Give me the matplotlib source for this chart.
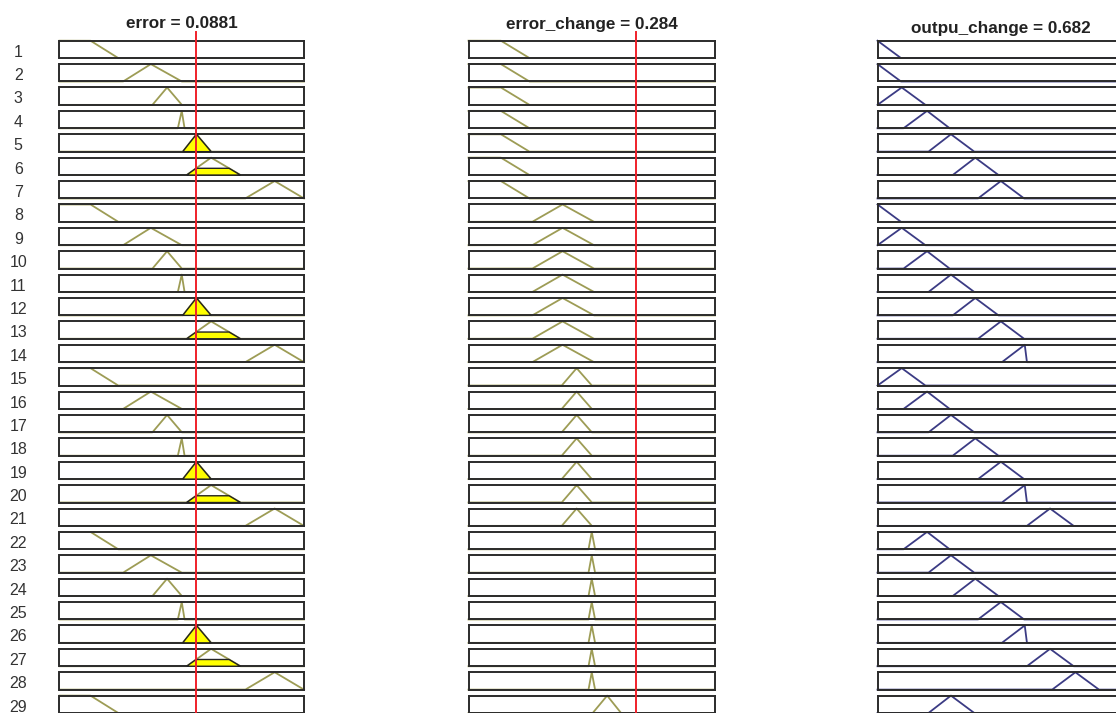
import numpy as np
import matplotlib
matplotlib.use("Agg")
import matplotlib.pyplot as plt
from matplotlib.lines import Line2D
from matplotlib.transforms import blended_transform_factory

plt.rcParams["font.family"] = ["Liberation Sans", "DejaVu Sans"]

# ---- fuzzy system description -------------------------------------------
error_range = [-0.75, 0.75]
dchange_range = [-0.8, 0.8]
output_range = [0.0, 0.7]

error_value = 0.0881
dchange_value = 0.284
output_value = 0.682

# membership functions: 3 params = triangle, 4 params = trapezoid
error_mfs = [
    [-0.75, -0.75, -0.56, -0.39],
    [-0.36, -0.19, 0.0],
    [-0.18, -0.09, 0.0],
    [-0.024, 0.0, 0.017],
    [0.006, 0.09, 0.18],
    [0.03, 0.18, 0.36],
    [0.39, 0.57, 0.75],
]
dchange_mfs = [
    [-0.8, -0.8, -0.59, -0.405],
    [-0.386, -0.19, 0.014],
    [-0.195, -0.098, 0.0],
    [-0.021, 0.0, 0.021],
    [0.006, 0.1, 0.19],
]
output_mfs = [
    [0.0, 0.0, 0.0665],
    [0.0, 0.069, 0.136],
    [0.074, 0.141, 0.205],
    [0.145, 0.209, 0.275],
    [0.214, 0.278, 0.344],
    [0.286, 0.351, 0.417],
    [0.354, 0.419, 0.425],
    [0.425, 0.491, 0.558],
    [0.497, 0.563, 0.63],
]

# rule base (1-based MF numbers)
rule_error = [1, 2, 3, 4, 5, 6, 7,
              1, 2, 3, 4, 5, 6, 7,
              1, 2, 3, 4, 5, 6, 7,
              1, 2, 3, 4, 5, 6, 7,
              1]
rule_dchange = [1, 1, 1, 1, 1, 1, 1,
                2, 2, 2, 2, 2, 2, 2,
                3, 3, 3, 3, 3, 3, 3,
                4, 4, 4, 4, 4, 4, 4,
                5]
rule_output = [1, 1, 2, 3, 4, 5, 6,
               1, 2, 3, 4, 5, 6, 7,
               2, 3, 4, 5, 6, 7, 8,
               3, 4, 5, 6, 7, 8, 9,
               4]
row_labels = [str(i) for i in range(1, 30)]

titles = ["error = 0.0881", "error_change = 0.284", "outpu_change = 0.682"]

# ---- helpers --------------------------------------------------------------
W, H = 1116, 713
IN_COLOR = "#9d9c55"
OUT_COLOR = "#3b3b84"
EDGE = "#2b2b2b"
RED = "#f0202a"


def mf_eval(p, x):
    a, b, c, d = (p[0], p[1], p[1], p[2]) if len(p) == 3 else p
    y = np.ones_like(x)
    if b > a:
        y = np.minimum(y, (x - a) / (b - a))
    else:
        y = np.where(x < a, 0.0, y)
    if d > c:
        y = np.minimum(y, (d - x) / (d - c))
    else:
        y = np.where(x > d, 0.0, y)
    return np.clip(y, 0.0, 1.0)


def grid(rng, p):
    pts = [v for v in p if rng[0] <= v <= rng[1]]
    return np.union1d(np.linspace(rng[0], rng[1], 2001), pts)


def clipped_fill(ax, x, y, level, face):
    yc = np.minimum(y, level)
    idx = np.nonzero(yc > 1e-9)[0]
    if len(idx) == 0:
        return
    i0 = max(idx[0] - 1, 0)
    i1 = min(idx[-1] + 1, len(x) - 1)
    xs = x[i0:i1 + 1]
    ys = yc[i0:i1 + 1]
    ax.fill(np.r_[xs[0], xs, xs[-1]], np.r_[0, ys, 0], facecolor=face,
            edgecolor="#222222", lw=1.0, zorder=3, clip_on=False)


def px_axes(fig, left, top, width, height):
    return fig.add_axes([left / W, 1 - (top + height) / H, width / W, height / H])


def style_box(ax, rng):
    ax.set_xlim(rng)
    ax.set_ylim(0, 1)
    ax.set_xticks([])
    ax.set_yticks([])
    ax.set_facecolor("white")
    for s in ax.spines.values():
        s.set_color(EDGE)
        s.set_linewidth(1.4)


# ---- figure ---------------------------------------------------------------
fig = plt.figure(figsize=(W / 100, H / 100), dpi=100)
fig.patch.set_facecolor("white")

col_left = [59.5, 468.5, 877.5]
col_width = [244.5, 246.5, 246.0]
row_top0 = 40.7
row_pitch = 23.39
row_h = 17.4

first_axes = []
for i in range(len(rule_error)):
    top = row_top0 + i * row_pitch

    mu_e = mf_eval(error_mfs[rule_error[i] - 1], np.array([error_value]))[0]
    mu_d = mf_eval(dchange_mfs[rule_dchange[i] - 1], np.array([dchange_value]))[0]
    strength = min(mu_e, mu_d)

    specs = [
        (error_range, error_mfs[rule_error[i] - 1], mu_e, IN_COLOR, "#ffff00"),
        (dchange_range, dchange_mfs[rule_dchange[i] - 1], mu_d, IN_COLOR, "#ffff00"),
        (output_range, output_mfs[rule_output[i] - 1], strength, OUT_COLOR, "#4040ff"),
    ]
    for c, (rng, p, level, color, face) in enumerate(specs):
        ax = px_axes(fig, col_left[c], top, col_width[c], row_h)
        style_box(ax, rng)
        x = grid(rng, p)
        y = mf_eval(p, x)
        ax.plot(x, y, color=color, lw=1.3, zorder=2, clip_on=False)
        clipped_fill(ax, x, y, level, face)
        if i == 0:
            first_axes.append(ax)

    fig.text(18.3 / W, 1 - (top - 0.7 + 16.7) / H, row_labels[i],
             ha="center", va="baseline", fontsize=11.5, color="#333333")

# titles
title_pos = [(181.7, 28.5), (591.7, 28.5), (1000.5, 33.5)]
for (tx, ty), t in zip(title_pos, titles):
    fig.text(tx / W, 1 - ty / H, t, ha="center", va="baseline",
             fontsize=12.3, fontweight="bold", color="#222222")

# current input / output values as vertical lines through every rule
for ax, v in zip(first_axes, [error_value, dchange_value, output_value]):
    trans = blended_transform_factory(ax.transData, fig.transFigure)
    fig.add_artist(Line2D([v, v], [-0.05, 1 - 32 / H], transform=trans,
                          color=RED, lw=1.4, zorder=10))

fig.savefig("out.png", dpi=100, facecolor="white")
